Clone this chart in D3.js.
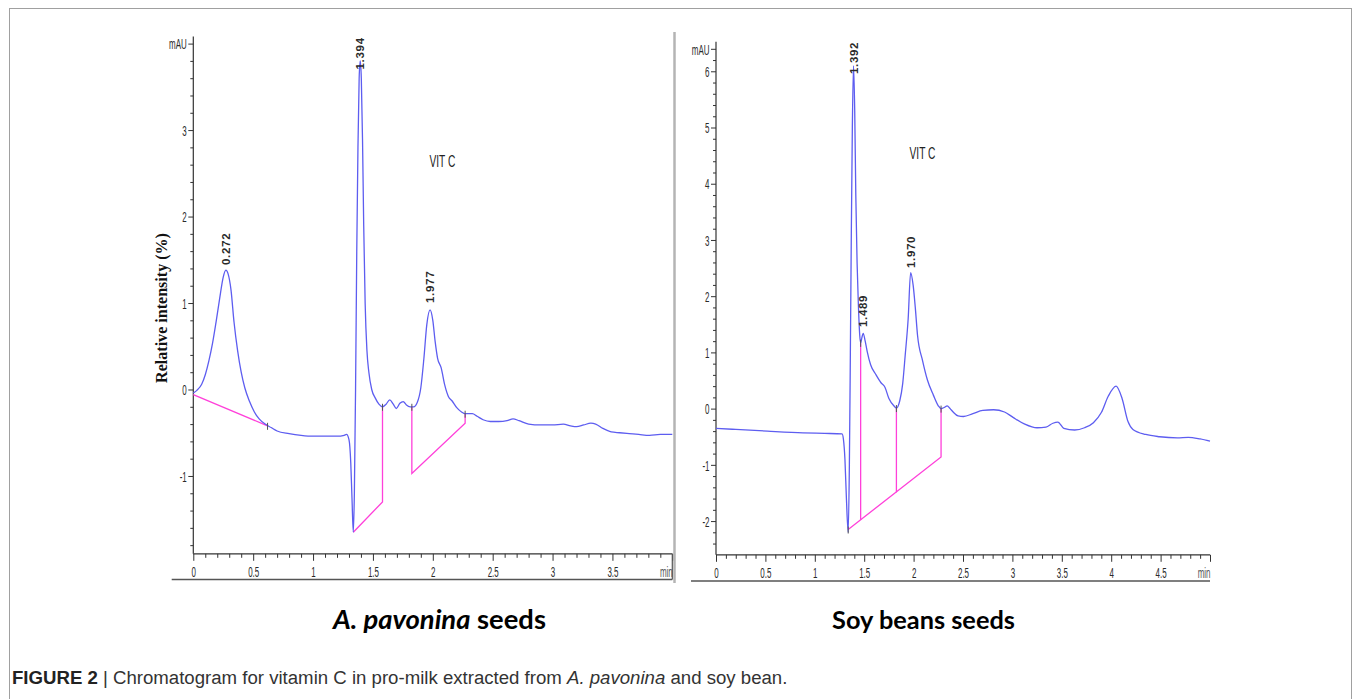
<!DOCTYPE html>
<html><head><meta charset="utf-8">
<script src="https://cdn.jsdelivr.net/npm/d3@7"></script>
<style>
body{margin:0;background:#fff;}
svg{display:block;}
</style></head><body>
<svg id="c" width="1357" height="699"></svg>
<script>
// ---------- DATA ----------
// Left chromatogram: A. pavonina seeds (time in min, signal in mAU)
const leftTime = [0,0.03,0.07,0.10,0.13,0.16,0.19,0.22,0.25,0.272,0.29,0.315,0.34,0.37,0.40,0.43,0.47,0.51,0.55,0.60,0.65,0.70,0.80,0.90,1.0,1.1,1.2,1.26,1.28,1.30,1.315,1.325,1.336,1.345,1.355,1.365,1.375,1.385,1.394,1.403,1.413,1.423,1.435,1.45,1.466,1.49,1.52,1.55,1.58,1.61,1.64,1.67,1.695,1.725,1.753,1.78,1.81,1.84,1.87,1.90,1.925,1.95,1.977,2.0,2.02,2.04,2.07,2.10,2.13,2.16,2.20,2.24,2.27,2.30,2.33,2.37,2.42,2.48,2.55,2.62,2.67,2.72,2.80,2.90,3.0,3.09,3.15,3.20,3.26,3.32,3.36,3.42,3.49,3.56,3.64,3.72,3.81,3.9,4.0];
const leftSignal = [-0.04,-0.01,0.06,0.17,0.33,0.53,0.78,1.05,1.30,1.38,1.34,1.15,0.78,0.45,0.2,0.02,-0.14,-0.26,-0.34,-0.40,-0.44,-0.48,-0.51,-0.53,-0.54,-0.54,-0.54,-0.53,-0.52,-0.58,-0.85,-1.25,-1.65,-1.2,0.0,1.6,2.8,3.6,3.8,3.6,2.9,1.9,1.0,0.45,0.2,0.0,-0.1,-0.17,-0.2,-0.17,-0.12,-0.17,-0.22,-0.16,-0.14,-0.18,-0.2,-0.2,-0.15,0.02,0.35,0.75,0.92,0.8,0.55,0.36,0.25,0.05,-0.08,-0.13,-0.21,-0.26,-0.28,-0.28,-0.28,-0.31,-0.35,-0.37,-0.37,-0.36,-0.34,-0.36,-0.40,-0.41,-0.41,-0.40,-0.42,-0.43,-0.41,-0.39,-0.40,-0.45,-0.49,-0.50,-0.51,-0.52,-0.53,-0.52,-0.52];

// Right chromatogram: Soy beans seeds
const rightTime = [0,0.2,0.52,0.88,1.1,1.276,1.29,1.305,1.32,1.338,1.35,1.36,1.37,1.38,1.392,1.404,1.415,1.428,1.44,1.455,1.464,1.475,1.49,1.51,1.53,1.565,1.62,1.67,1.71,1.75,1.80,1.826,1.86,1.89,1.915,1.945,1.97,1.995,2.017,2.04,2.09,2.14,2.2,2.25,2.278,2.31,2.34,2.37,2.40,2.45,2.505,2.6,2.7,2.81,2.92,3.01,3.12,3.25,3.34,3.41,3.46,3.52,3.63,3.73,3.82,3.90,3.97,4.05,4.11,4.17,4.22,4.35,4.49,4.67,4.78,4.9,5.0];
const rightSignal = [-0.35,-0.37,-0.40,-0.43,-0.44,-0.45,-0.55,-0.9,-1.6,-2.2,-1.0,1.0,3.2,5.0,6.1,5.3,3.8,2.6,1.9,1.3,1.17,1.25,1.34,1.2,1.02,0.78,0.6,0.46,0.38,0.18,0.05,0.01,0.14,0.45,0.95,1.6,2.42,2.2,1.8,1.3,0.86,0.51,0.24,0.05,0.0,0.02,0.05,0.0,-0.06,-0.13,-0.14,-0.09,-0.03,-0.02,-0.06,-0.16,-0.27,-0.34,-0.33,-0.26,-0.24,-0.35,-0.38,-0.34,-0.25,-0.07,0.22,0.40,0.18,-0.23,-0.37,-0.46,-0.50,-0.52,-0.51,-0.54,-0.58];

// Integration baselines (time, mAU)
const leftBaselines = [
  [[0,-0.06],[0.62,-0.42]],
  [[1.336,-1.65],[1.58,-1.30],[1.58,-0.2]],
  [[1.825,-0.2],[1.825,-0.97],[2.27,-0.39],[2.27,-0.28]]
];
const rightBaselines = [
  [[1.338,-2.15],[2.278,-0.86],[2.278,0.0]],
  [[1.464,-1.98],[1.464,1.17]],
  [[1.826,-1.49],[1.826,0.01]]
];
// Integration event markers (time, mAU)
const leftEvents = [[0.62,-0.42],[1.58,-0.2],[1.825,-0.2],[2.27,-0.28]];
const rightEvents = [[1.338,-2.15],[1.464,1.17],[1.826,0.01],[2.278,0.0]];

// Peak labels: retention time and label anchor (mAU)
const leftPeakTimes = [0.272, 1.394, 1.977];
const leftPeakLabels = ["0.272", "1.394", "1.977"];
const leftPeakAnchor = [1.44, 3.7, 1.0];
const rightPeakTimes = [1.392, 1.489, 1.970];
const rightPeakLabels = ["1.392", "1.489", "1.970"];
const rightPeakAnchor = [5.95, 1.45, 2.5];

// Axis ticks
const leftXMajor = [0,0.5,1,1.5,2,2.5,3,3.5,4];
const leftXLabels = ["0","0.5","1","1.5","2","2.5","3","3.5","min"];
const leftYMajor = [-1,0,1,2,3,4];
const leftYLabels = ["-1","0","1","2","3","mAU"];
const rightXMajor = [0,0.5,1,1.5,2,2.5,3,3.5,4,4.5,5];
const rightXLabels = ["0","0.5","1","1.5","2","2.5","3","3.5","4","4.5","min"];
const rightYMajor = [-2,-1,0,1,2,3,4,5,6,6.4];
const rightYLabels = ["-2","-1","0","1","2","3","4","5","6","mAU"];

const annotationText = "VIT C";
const annotationPos = { left: [2.08, 2.64], right: [2.09, 4.55] };

// ---------- DRAW ----------
const svg = d3.select('#c');
const TRACE = '#5d5df0';
const BASE = '#ff40da';

// Outer frame
svg.append('rect').attr('x',9.5).attr('y',8.5).attr('width',1342).attr('height',710)
  .attr('fill','none').attr('stroke','#a0a0a0').attr('stroke-width',1);

function range(a,b,step){const out=[];for(let v=a;v<=b+1e-9;v+=step)out.push(Math.round(v*1000)/1000);return out;}

function drawPanel(cfg){
  const x = d3.scaleLinear().domain(cfg.xDomain).range([cfg.x0,cfg.x1]);
  const y = d3.scaleLinear().domain(cfg.yDomain).range([cfg.yBottom,cfg.yTop]);
  const g = svg.append('g');
  const SX = 0.55;

  // minor ticks
  const yMinor = range(cfg.yMinorStart, cfg.yDomain[1], 0.2).filter(v=>!cfg.yMajor.some(m=>Math.abs(m-v)<1e-6));
  g.append('g').attr('transform',`translate(${cfg.x0},0)`)
    .call(d3.axisLeft(y).tickValues(yMinor).tickSize(3).tickFormat(''))
    .call(a=>a.select('.domain').remove())
    .call(a=>a.selectAll('line').attr('stroke','#333'));
  const xMinor = range(cfg.xDomain[0], cfg.xDomain[1], 0.1).filter(v=>!cfg.xMajor.some(m=>Math.abs(m-v)<1e-6));
  g.append('g').attr('transform',`translate(0,${cfg.yBottom})`)
    .call(d3.axisBottom(x).tickValues(xMinor).tickSize(4).tickFormat(''))
    .call(a=>a.select('.domain').remove())
    .call(a=>a.selectAll('line').attr('stroke','#333'));

  // major y
  const ya = g.append('g').attr('transform',`translate(${cfg.x0},0)`)
    .call(d3.axisLeft(y).tickValues(cfg.yMajor).tickSize(5).tickFormat((d,i)=>cfg.yLabels[i]))
    .call(a=>a.select('.domain').remove());
  ya.selectAll('line').attr('stroke','#333');
  ya.selectAll('text').attr('font-family','Liberation Sans, Arial, sans-serif').attr('font-size',14.5)
    .attr('fill','#2a2a2a').attr('x',-6.5/SX).attr('dy','0.36em').attr('transform',`scale(${SX},1)`);

  // major x
  const xa = g.append('g').attr('transform',`translate(0,${cfg.yBottom})`)
    .call(d3.axisBottom(x).tickValues(cfg.xMajor).tickSize(7).tickFormat((d,i)=>cfg.xLabels[i]))
    .call(a=>a.select('.domain').remove());
  xa.selectAll('line').attr('stroke','#333');
  xa.selectAll('text').attr('font-family','Liberation Sans, Arial, sans-serif').attr('font-size',14.5)
    .attr('fill','#2a2a2a').attr('y',12.5).attr('dy','0.71em').attr('transform',`scale(${SX},1)`);
  // "min" label right-aligned to axis end
  xa.selectAll('.tick').filter((d,i)=>i===cfg.xMajor.length-1).select('text')
    .attr('text-anchor','end').attr('fill','#555');

  // axis lines
  g.append('line').attr('x1',cfg.x0).attr('x2',cfg.x0).attr('y1',cfg.yTop-7).attr('y2',cfg.yBottom)
    .attr('stroke','#333').attr('stroke-width',1.2);
  g.append('line').attr('x1',cfg.x0).attr('x2',cfg.x1).attr('y1',cfg.yBottom).attr('y2',cfg.yBottom)
    .attr('stroke','#333').attr('stroke-width',1.2);
  // lower frame line
  g.append('line').attr('x1',cfg.bx0).attr('x2',cfg.x1).attr('y1',cfg.by).attr('y2',cfg.by)
    .attr('stroke','#555').attr('stroke-width',1.6);
  if(cfg.endBar){
    g.append('line').attr('x1',cfg.x1).attr('x2',cfg.x1).attr('y1',cfg.yBottom).attr('y2',cfg.by)
      .attr('stroke','#555').attr('stroke-width',1.2);
  }

  // baselines
  const bl = d3.line().x(d=>x(d[0])).y(d=>y(d[1]));
  g.selectAll('path.base').data(cfg.baselines).enter().append('path').attr('class','base')
    .attr('d',bl).attr('fill','none').attr('stroke',BASE).attr('stroke-width',1.3);

  // trace
  const pts = cfg.time.map((t,i)=>[t,cfg.signal[i]]);
  g.append('path').datum(pts)
    .attr('d',d3.line().x(d=>x(d[0])).y(d=>y(d[1])).curve(d3.curveMonotoneX))
    .attr('fill','none').attr('stroke',TRACE).attr('stroke-width',1.3);

  // event markers
  g.selectAll('line.ev').data(cfg.events).enter().append('line').attr('class','ev')
    .attr('x1',d=>x(d[0])).attr('x2',d=>x(d[0])).attr('y1',d=>y(d[1])-3).attr('y2',d=>y(d[1])+4)
    .attr('stroke','#555').attr('stroke-width',1);

  // peak labels
  cfg.peakTimes.forEach((t,i)=>{
    const px=x(t), py=y(cfg.peakAnchor[i]);
    g.append('text').attr('transform',`translate(${px},${py}) rotate(-90)`)
      .attr('dy','0.36em').attr('font-family','Liberation Sans, Arial, sans-serif')
      .attr('font-size',11.5).attr('font-weight','bold').attr('letter-spacing',0.7)
      .attr('fill','#2a2a2a').text(cfg.peakLabels[i]);
  });

  // annotation
  g.append('text').attr('transform',`translate(${x(cfg.annot[0])},${y(cfg.annot[1])}) scale(0.6,1)`)
    .attr('text-anchor','middle').attr('dy','0.36em')
    .attr('font-family','Liberation Sans, Arial, sans-serif').attr('font-size',17).attr('fill','#222')
    .text(annotationText);
}

drawPanel({
  x0:193.3, x1:672.3, xDomain:[0,4], yDomain:[-1.9,4], yBottom:553.8, yTop:43.6, yMinorStart:-1.8,
  xMajor:leftXMajor, xLabels:leftXLabels, yMajor:leftYMajor, yLabels:leftYLabels,
  time:leftTime, signal:leftSignal, baselines:leftBaselines, events:leftEvents,
  peakTimes:leftPeakTimes, peakLabels:leftPeakLabels, peakAnchor:leftPeakAnchor,
  annot:annotationPos.left, bx0:171.7, by:579.5, endBar:true
});
drawPanel({
  x0:716, x1:1210, xDomain:[0,5], yDomain:[-2.6,6.4], yBottom:554.8, yTop:48.8, yMinorStart:-2.4,
  xMajor:rightXMajor, xLabels:rightXLabels, yMajor:rightYMajor, yLabels:rightYLabels,
  time:rightTime, signal:rightSignal, baselines:rightBaselines, events:rightEvents,
  peakTimes:rightPeakTimes, peakLabels:rightPeakLabels, peakAnchor:rightPeakAnchor,
  annot:annotationPos.right, bx0:691, by:581, endBar:false
});

// separator
svg.append('line').attr('x1',674.5).attr('x2',674.5).attr('y1',32).attr('y2',583)
  .attr('stroke','#b4b4b4').attr('stroke-width',2.5);

function fit(sel,target){
  const len = sel.node().getComputedTextLength();
  const fs = parseFloat(sel.attr('font-size'));
  sel.attr('font-size', fs*target/len);
}

// y-axis title
const yl = svg.append('text').attr('transform','translate(161,308) rotate(-90)')
  .attr('text-anchor','middle').attr('dy','0.35em')
  .attr('font-family','Liberation Serif, Times New Roman, serif').attr('font-weight','bold')
  .attr('font-size',15).attr('fill','#111').text('Relative intensity (%)');
fit(yl,150);

// panel titles
const t1 = svg.append('text').attr('x',439.5).attr('y',629).attr('text-anchor','middle')
  .attr('font-family','Lato, Open Sans, sans-serif').attr('font-weight','bold').attr('font-size',24).attr('fill','#000');
t1.append('tspan').attr('font-style','italic').text('A. pavonina');
t1.append('tspan').text(' seeds');
fit(t1,213);
const t2 = svg.append('text').attr('x',923.5).attr('y',629).attr('text-anchor','middle')
  .attr('font-family','Lato, Open Sans, sans-serif').attr('font-weight','bold').attr('font-size',24).attr('fill','#000')
  .text('Soy beans seeds');
fit(t2,183);

// caption
const cap = svg.append('text').attr('x',12).attr('y',684)
  .attr('font-family','Liberation Sans, Arial, sans-serif').attr('font-size',16).attr('fill','#333');
cap.append('tspan').attr('font-weight','bold').attr('fill','#222').text('FIGURE 2');
cap.append('tspan').text(' | Chromatogram for vitamin C in pro-milk extracted from ');
cap.append('tspan').attr('font-style','italic').text('A. pavonina');
cap.append('tspan').text(' and soy bean.');
fit(cap,776);
</script>
</body></html>
